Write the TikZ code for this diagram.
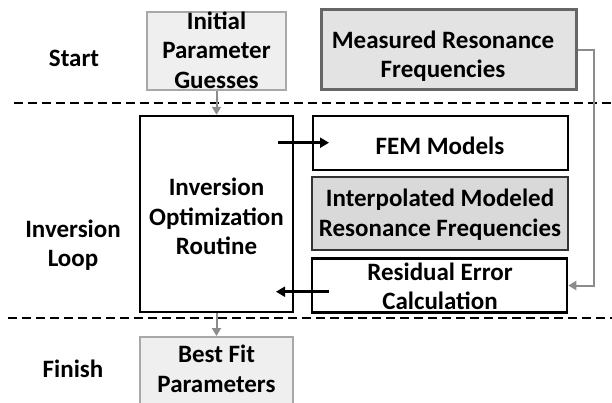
\documentclass[tikz,border=0pt]{standalone}
\usepackage{fontspec}
\setmainfont{Carlito}
\usetikzlibrary{arrows.meta,calc}
\definecolor{lightfill}{HTML}{EFEFEF}
\definecolor{lightedge}{HTML}{A8A8A8}
\definecolor{midfill}{HTML}{E3E3E3}
\definecolor{darkedge}{HTML}{666666}
\definecolor{grayfill}{HTML}{D9D9D9}
\definecolor{connector}{HTML}{8C8C8C}
\tikzset{
  x=1pt, y=-1pt,
  txt/.style={font=\fontsize{25}{29.5}\selectfont\bfseries, align=center, inner sep=0pt},
  lightbox/.style={draw=lightedge, fill=lightfill, line width=2pt, inner sep=0pt},
  measbox/.style={draw=darkedge, fill=midfill, line width=2.5pt, inner sep=0pt},
  blackbox/.style={draw=black, line width=2.5pt, inner sep=0pt},
  graybox/.style={draw=black!80, fill=grayfill, line width=2.5pt, inner sep=0pt},
  divider/.style={line width=2.5pt, dash pattern=on 9pt off 5pt},
  grayarrow/.style={draw=connector, line width=2pt, -{Triangle[length=8pt,width=9pt]}},
  blackarrow/.style={draw=black, line width=2.5pt, -{Triangle[length=9pt,width=10pt]}},
}
\begin{document}
\begin{tikzpicture}
\useasboundingbox (0,0) rectangle (612,402);
\clip (0,0) rectangle (612,402);
% dividers
\coordinate (d1a) at (14,103);
\coordinate (d1b) at (612,103);
\coordinate (d2a) at (8,318);
\coordinate (d2b) at (612,318);
\draw[divider] (d1a) -- (d1b);
\draw[divider] (d2a) -- (d2b);
% phase labels
\node[txt] (start) at (74,58) {Start};
\node[txt] (loop) at (73,245) {Inversion\\Loop};
\node[txt] (finish) at (73,369) {Finish};
% boxes
\node[lightbox, minimum width=139pt, minimum height=78pt] (init) at (216.5,51) {};
\node[txt] (initt) at (216.5,50) {Initial\\Parameter\\Guesses};
\node[measbox, minimum width=255pt, minimum height=80pt] (meas) at (449,49.5) {};
\node[txt] (meast) at (443,56) {Measured Resonance\\Frequencies};
\node[blackbox, minimum width=153pt, minimum height=196pt] (inv) at (216.5,214) {};
\node[txt] (invt) at (216.5,216.5) {Inversion\\Optimization\\Routine};
\node[blackbox, minimum width=255pt, minimum height=54pt] (fem) at (440.5,143) {};
\node[txt] (femt) at (440,146) {FEM Models};
\node[graybox, minimum width=256pt, minimum height=73pt] (interp) at (440,213.5) {};
\node[txt] (interpt) at (440,214.5) {Interpolated Modeled\\Resonance Frequencies};
\node[blackbox, minimum width=255pt, minimum height=54pt] (resid) at (439.5,285.5) {};
\node[txt] (residt) at (440,286.5) {Residual Error\\Calculation};
\node[lightbox, minimum width=153pt, minimum height=72pt] (best) at (216.5,373) {};
\node[txt] (bestt) at (216.5,369) {Best Fit\\Parameters};
% connectors
\draw[grayarrow] (init.south) -- (inv.north);
\draw[grayarrow] (inv.south) -- (best.north);
\draw[grayarrow] (meas.east) -- ++(16,0) |- (resid.east);
\coordinate (femfrom) at (278,142.7);
\coordinate (femto) at (329,142.7);
\draw[blackarrow] (femfrom) -- (femto);
\coordinate (resfrom) at (329,291.7);
\coordinate (resto) at (276,291.7);
\draw[blackarrow] (resfrom) -- (resto);
\end{tikzpicture}
\end{document}
